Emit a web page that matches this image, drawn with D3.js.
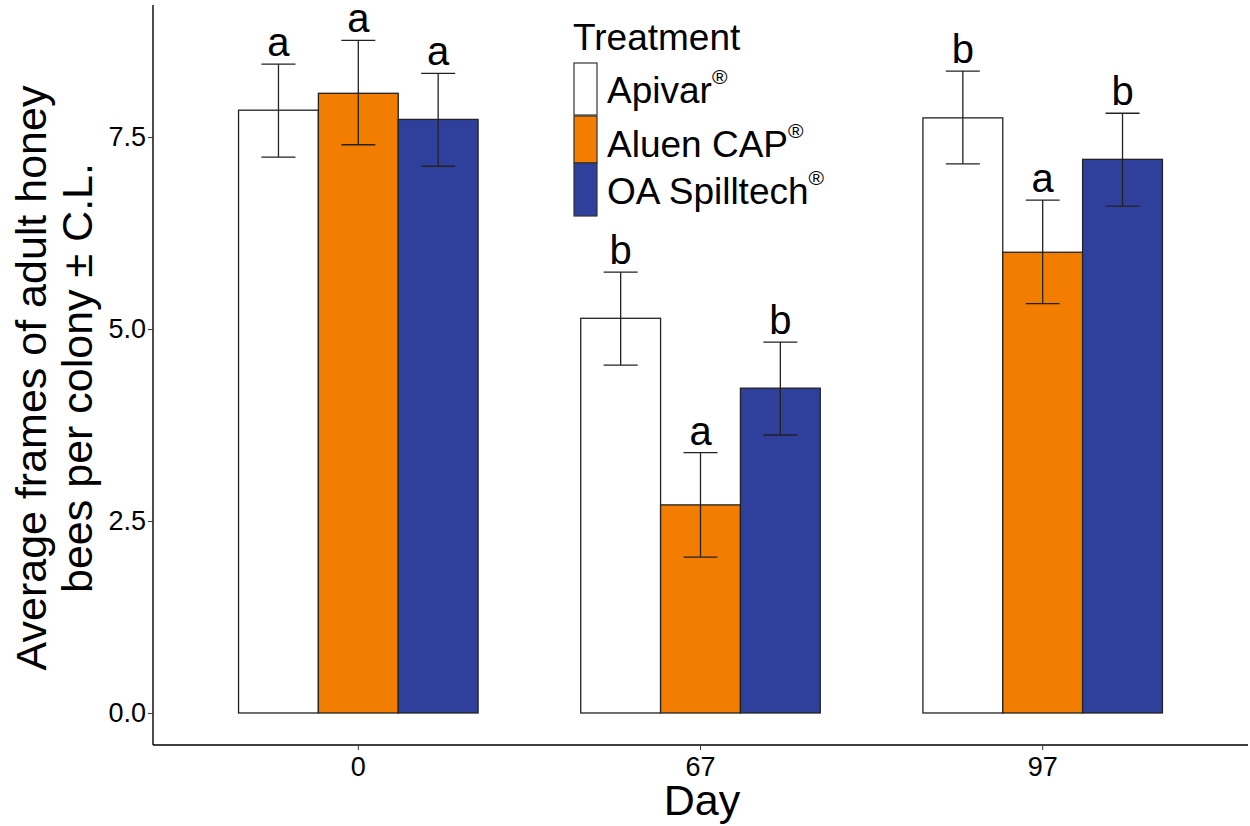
<!DOCTYPE html>
<html><head><meta charset="utf-8">
<script src="https://cdn.jsdelivr.net/npm/d3@7"></script>
<style>body{margin:0;background:#fff}svg{display:block}text{font-family:"Liberation Sans",Arial,sans-serif;fill:#000}</style>
</head><body><svg id="c" width="1250" height="826"></svg>
<script>
const days = ["0","67","97"];
const treatments = ["Apivar","Aluen CAP","OA Spilltech"];
const colors = ["#ffffff","#f27d00","#2f3f9c"];
const means = [[7.85,8.07,7.73],[5.14,2.71,4.23],[7.75,6.00,7.21]];
const lower = [[7.24,7.40,7.12],[4.53,2.03,3.62],[7.15,5.33,6.60]];
const upper = [[8.45,8.76,8.33],[5.74,3.39,4.83],[8.36,6.68,7.81]];
const letters = [["a","a","a"],["b","a","b"],["b","a","b"]];
const yTicks = [0,2.5,5,7.5];

const svg = d3.select("#c");
const L=153, R=1248, T=5, B=745;
const y = d3.scaleLinear().domain([-0.417,9.22]).range([B,T]);
const x0 = d3.scaleBand().domain(days).range([L,R]).paddingInner(0.3).paddingOuter(0.25);
const x1 = d3.scaleBand().domain(treatments).range([0,x0.bandwidth()]);

const rows=[];
days.forEach((d,i)=>treatments.forEach((t,j)=>rows.push({d,t,j,m:means[i][j],lo:lower[i][j],hi:upper[i][j],l:letters[i][j]})));
const cx = r=>x0(r.d)+x1(r.t)+x1.bandwidth()/2;

const g = svg.append("g");
g.selectAll("rect.bar").data(rows).enter().append("rect")
 .attr("x",r=>x0(r.d)+x1(r.t)).attr("width",x1.bandwidth())
 .attr("y",r=>y(r.m)).attr("height",r=>y(0)-y(r.m))
 .attr("fill",r=>colors[r.j]).attr("stroke","#222").attr("stroke-width",1.3);
const cw=17;
const eb = g.selectAll("g.eb").data(rows).enter().append("g").attr("stroke","#222").attr("stroke-width",1.3);
eb.append("line").attr("x1",cx).attr("x2",cx).attr("y1",r=>y(r.lo)).attr("y2",r=>y(r.hi));
eb.append("line").attr("x1",r=>cx(r)-cw).attr("x2",r=>cx(r)+cw).attr("y1",r=>y(r.lo)).attr("y2",r=>y(r.lo));
eb.append("line").attr("x1",r=>cx(r)-cw).attr("x2",r=>cx(r)+cw).attr("y1",r=>y(r.hi)).attr("y2",r=>y(r.hi));
g.selectAll("text.lt").data(rows).enter().append("text")
 .attr("x",cx).attr("y",r=>y(r.hi)-8)
 .attr("text-anchor","middle").attr("font-size",40).text(r=>r.l);

// axes
const ya = svg.append("g").attr("transform",`translate(${L},0)`).call(d3.axisLeft(y).tickValues(yTicks).tickFormat(d3.format(".1f")).tickSize(5).tickSizeOuter(0));
const xa = svg.append("g").attr("transform",`translate(0,${B})`).call(d3.axisBottom(x0).tickSize(5).tickSizeOuter(0));
[ya,xa].forEach(a=>{a.select(".domain").attr("stroke","#000").attr("stroke-width",1.4);a.selectAll(".tick line").attr("stroke","#333");a.selectAll("text").attr("font-size",27).attr("fill","#333").attr("font-family","Liberation Sans, Arial, sans-serif");});
ya.select(".domain").attr("d",`M0,${T}V${B}`);
xa.select(".domain").attr("d",`M${L},0H${R}`);
ya.selectAll("text").attr("x",-7);
xa.selectAll("text").attr("y",12);

svg.append("text").attr("x",702).attr("y",815).attr("text-anchor","middle").attr("font-size",43).text("Day");
const yt = svg.append("text").attr("transform","translate(0,378) rotate(-90)").attr("text-anchor","middle").attr("font-size",43);
yt.append("tspan").attr("x",0).attr("y",46).text("Average frames of adult honey");
yt.append("tspan").attr("x",0).attr("y",92).text("bees per colony \u00b1 C.L.");

// legend
const lg = svg.append("g");
lg.append("text").attr("x",573).attr("y",50).attr("font-size",37).text("Treatment");
const keyY=[63,116,163], keyH=[52,47,53], baseY=[103,157,204];
treatments.forEach((t,j)=>{
  lg.append("rect").attr("x",574).attr("y",keyY[j]).attr("width",23).attr("height",keyH[j]).attr("fill",colors[j]).attr("stroke","#333").attr("stroke-width",1.2);
  const tx = lg.append("text").attr("x",607).attr("y",baseY[j]).attr("font-size",37).text(t);
  tx.append("tspan").attr("dy",-19).attr("font-size",21).text("\u00ae");
});
</script></body></html>
